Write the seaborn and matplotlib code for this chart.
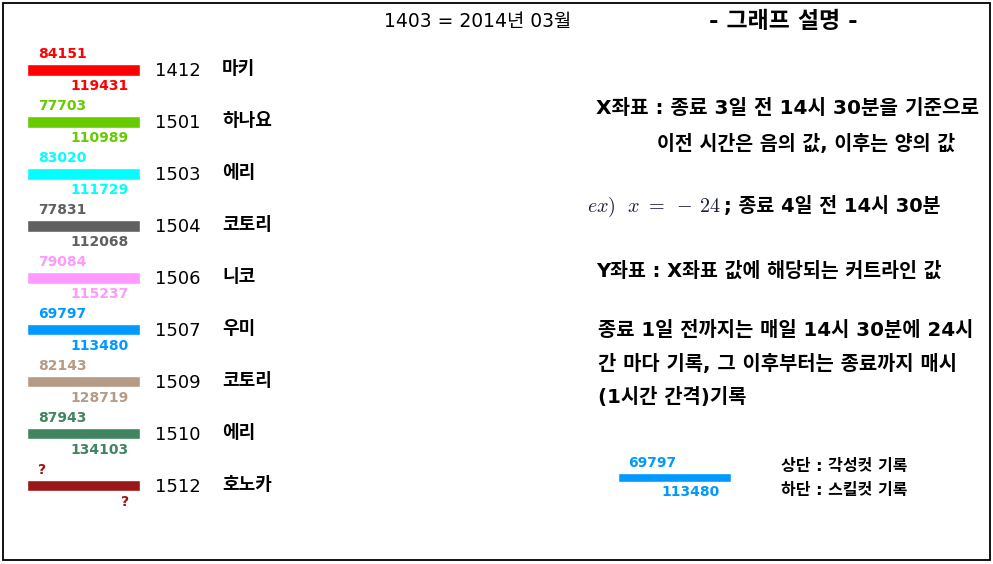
import matplotlib

matplotlib.use("Agg")

import matplotlib.pyplot as plt
import seaborn as sns
from matplotlib.patches import Rectangle

# legend entries: month code, character, awakening cut (top), skill cut (bottom)
codes = ["1412", "1501", "1503", "1504", "1506", "1507", "1509", "1510", "1512"]
names = ["마키", "하나요", "에리", "코토리", "니코", "우미", "코토리", "에리", "호노카"]
top_cuts = ["84151", "77703", "83020", "77831", "79084", "69797", "82143", "87943", "?"]
bottom_cuts = ["119431", "110989", "111729", "112068", "115237", "113480", "128719", "134103", "?"]
colors = ["#ff0000", "#66cc00", "#00ffff", "#606060", "#ff99ff",
          "#0099ff", "#b59b86", "#418460", "#9b1717"]

title_left = "1403 = 2014년 03월"
title_right = "- 그래프 설명 -"
x_desc = ["X좌표 : 종료 3일 전 14시 30분을 기준으로", "이전 시간은 음의 값, 이후는 양의 값"]
ex_math = r"$ex)\ \ x\ =\ -\,24$"
ex_text = "; 종료 4일 전 14시 30분"
y_desc = "Y좌표 : X좌표 값에 해당되는 커트라인 값"
rec_desc = ["종료 1일 전까지는 매일 14시 30분에 24시",
            "간 마다 기록, 그 이후부터는 종료까지 매시",
            "(1시간 간격)기록"]
sample_top, sample_bottom, sample_color = "69797", "113480", "#0099ff"
sample_notes = ["상단 : 각성컷 기록", "하단 : 스킬컷 기록"]

sns.set_theme(style="white")
plt.rcParams["font.family"] = ["DejaVu Sans", "Noto Sans CJK KR"]
plt.rcParams["text.color"] = "black"
plt.rcParams["mathtext.fontset"] = "cm"

W, H = 993, 564
fig = plt.figure(figsize=(W / 100, H / 100), dpi=100)
ax = fig.add_axes([0, 0, 1, 1])
ax.set_xlim(0, W)
ax.set_ylim(H, 0)
ax.axis("off")
ax.add_patch(Rectangle((2.5, 2.5), 987, 557, fill=False, lw=1.3, ec="black"))

# swatches for each month (categorical rows, 52px apart)
row0, step = 69.5, 52.0
n = len(codes)
sax = fig.add_axes([27 / W, 1 - (row0 - step / 2 + n * step) / H, 113 / W, n * step / H])
sns.barplot(x=[1] * n, y=codes, hue=codes, palette=colors, order=codes,
            legend=False, orient="h", width=12 / step, ax=sax, saturation=1)
sax.set_xlim(0, 1)
sax.axis("off")

for i in range(n):
    y = row0 + step * i
    ax.text(38, y - 16, top_cuts[i], color=colors[i], fontsize=10, weight="bold",
            ha="left", va="center")
    ax.text(129, y + 16.5, bottom_cuts[i], color=colors[i], fontsize=10, weight="bold",
            ha="right", va="center")
    ax.text(155, y + 1, codes[i], fontsize=13, ha="left", va="center")
    ax.text(222, y, names[i], fontsize=13, weight="bold", ha="left", va="center")

ax.text(478, 22, title_left, fontsize=13.5, ha="center", va="center")
ax.text(783, 22, title_right, fontsize=16.5, weight="bold", ha="center", va="center")

ax.text(596, 109, x_desc[0], fontsize=14.5, weight="bold", ha="left", va="center")
ax.text(657, 144, x_desc[1], fontsize=14, weight="bold", ha="left", va="center")
ax.text(587, 207, ex_math, fontsize=14.5, color="#1c1c3c", ha="left", va="center")
ax.text(724, 206, ex_text, fontsize=14, weight="bold", ha="left", va="center")
ax.text(596, 271, y_desc, fontsize=14, weight="bold", ha="left", va="center")
for j, line in enumerate(rec_desc):
    ax.text(598, 331 + 33 * j, line, fontsize=14.3, weight="bold", ha="left", va="center")

# sample swatch explaining the labels
eax = fig.add_axes([618 / W, 1 - 485 / H, 113 / W, 16 / H])
sns.barplot(x=[1], y=[sample_top], color=sample_color, orient="h", width=9 / 16,
            ax=eax, saturation=1)
eax.set_xlim(0, 1)
eax.axis("off")
ax.text(628, 463, sample_top, color=sample_color, fontsize=10, weight="bold",
        ha="left", va="center")
ax.text(720, 492, sample_bottom, color=sample_color, fontsize=10, weight="bold",
        ha="right", va="center")
ax.text(781, 466, sample_notes[0], fontsize=11.5, weight="bold", ha="left", va="center")
ax.text(781, 491, sample_notes[1], fontsize=11.5, weight="bold", ha="left", va="center")

fig.savefig("out.png", dpi=100)
